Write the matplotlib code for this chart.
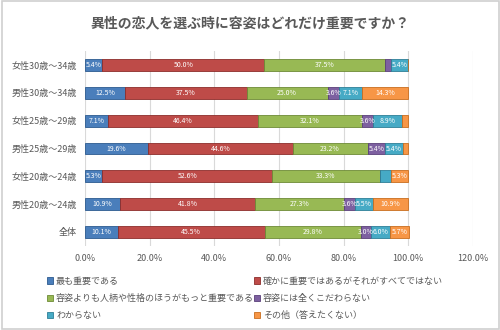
import numpy as np
import matplotlib.pyplot as plt
from matplotlib.patches import Patch

plt.rcParams['font.family'] = ['Noto Sans CJK JP', 'DejaVu Sans']

categories = ["女性30歳～34歳", "男性30歳～34歳", "女性25歳～29歳", "男性25歳～29歳",
              "女性20歳～24歳", "男性20歳～24歳", "全体"]
series_names = ["最も重要である",
                "確かに重要ではあるがそれがすべてではない",
                "容姿よりも人柄や性格のほうがもっと重要である",
                "容姿には全くこだわらない",
                "わからない",
                "その他（答えたくない）"]
most_important = [5.4, 12.5, 7.1, 19.6, 5.3, 10.9, 10.1]
important_not_all = [50.0, 37.5, 46.4, 44.6, 52.6, 41.8, 45.5]
personality_more = [37.5, 25.0, 32.1, 23.2, 33.3, 27.3, 29.8]
not_care = [1.7, 3.6, 3.6, 5.4, 0.0, 3.6, 3.0]
dont_know = [5.4, 7.1, 8.9, 5.4, 3.5, 5.5, 6.0]
other = [0.0, 14.3, 1.8, 1.8, 5.3, 10.9, 5.7]
x_ticks = [0, 20, 40, 60, 80, 100, 120]

colors = ["#4a7ebb", "#be4b48", "#98b954", "#7d60a0", "#46aac5", "#f79646"]
edges = ["#2c5a8f", "#8c2d2b", "#6d8a36", "#5a3f7a", "#2d7f96", "#c86d1e"]

series = [most_important, important_not_all, personality_more, not_care, dont_know, other]

fig = plt.figure(figsize=(5, 3.3), dpi=100)
fig.patches.append(plt.Rectangle((0.003, 0.003), 0.994, 0.994, transform=fig.transFigure,
                                 fill=False, edgecolor="#d0d0d0", linewidth=1.2))
ax = fig.add_axes([0.17, 0.255, 0.776, 0.59])

y = np.arange(len(categories))
left = np.zeros(len(categories))
for vals, c, ec in zip(series, colors, edges):
    vals = np.array(vals)
    ax.barh(y, vals, left=left, height=0.42, color=c, edgecolor=ec, linewidth=0.6, zorder=3)
    for yi, (l, v) in enumerate(zip(left, vals)):
        # the chart hides the very small labels
        if v >= 2.0 and not (yi == 4 and c == colors[4]):
            ax.text(l + v / 2, yi, f"{v:.1f}%", ha="center", va="center",
                    fontsize=5.0, color="white", zorder=4)
    left += vals

ax.set_xlim(0, 120)
ax.set_ylim(len(categories) - 0.5, -0.5)
ax.set_xticks(x_ticks)
ax.set_xticklabels([f"{t:.1f}%" for t in x_ticks])
ax.set_yticks(y)
ax.set_yticklabels(categories)
ax.tick_params(axis="both", length=0, labelsize=6.5, labelcolor="#595959")
ax.tick_params(axis="x", pad=6)
ax.tick_params(axis="y", pad=6)
ax.grid(axis="x", color="#d9d9d9", linewidth=0.8, zorder=0)
for s in ax.spines.values():
    s.set_visible(False)

fig.text(0.5, 0.93, "異性の恋人を選ぶ時に容姿はどれだけ重要ですか？", ha="center", va="center",
         fontsize=10, fontweight="bold", color="#595959")

handles = [Patch(facecolor=c, edgecolor=ec, linewidth=0.6) for c, ec in zip(colors, edges)]
order = [0, 2, 4, 1, 3, 5]
leg = fig.legend([handles[i] for i in order], [series_names[i] for i in order],
                 ncol=2, loc="upper left", bbox_to_anchor=(0.085, 0.175), frameon=False,
                 fontsize=6.5, handlelength=0.7, handleheight=0.7, handletextpad=0.3,
                 columnspacing=0.0, labelspacing=0.9, borderpad=0)
for t in leg.get_texts():
    t.set_color("#595959")

fig.savefig("out.png", dpi=100)
